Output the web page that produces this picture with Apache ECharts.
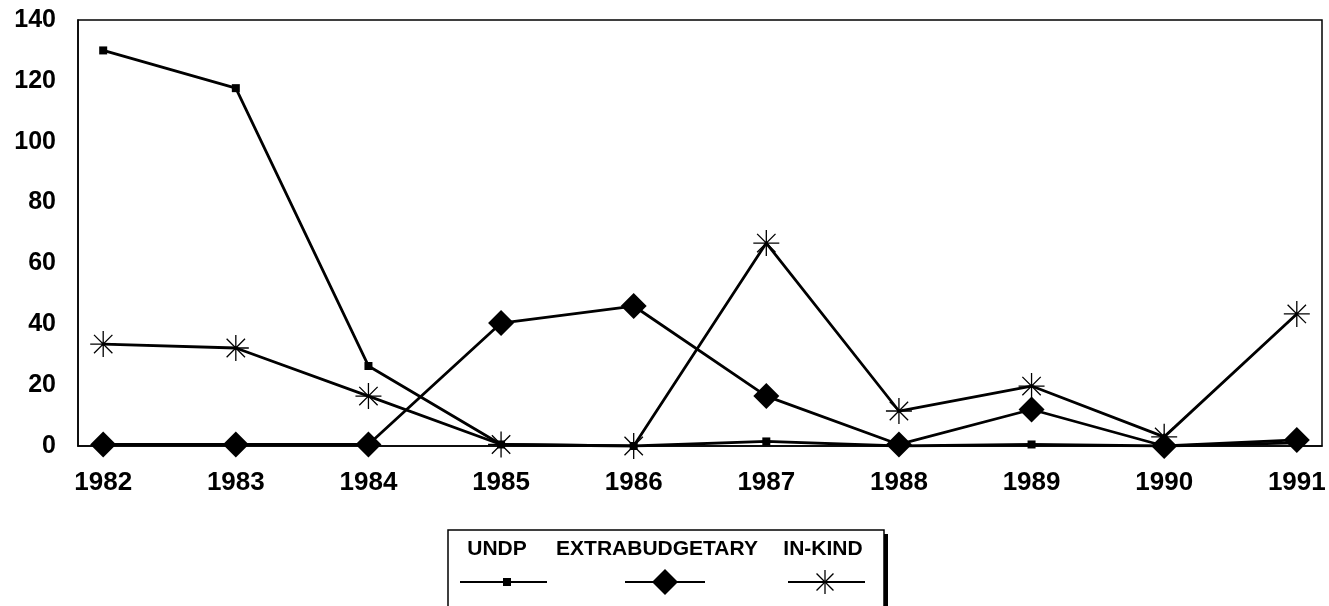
<!DOCTYPE html>
<html><head><meta charset="utf-8">
<script src="https://cdn.jsdelivr.net/npm/echarts@6/dist/echarts.min.js"></script>
<style>html,body{margin:0;padding:0;background:#fff}#c{width:1329px;height:606px}</style>
</head><body><div id="c"></div>
<script>
const years = [1982,1983,1984,1985,1986,1987,1988,1989,1990,1991];
const seriesNames = ['UNDP','EXTRABUDGETARY','IN-KIND'];
const undp = [130,117.6,26.3,0.5,0,1.5,0,0.5,0,1];
const extrabudgetary = [0.5,0.5,0.5,40.4,46,16.4,0.5,12,0,2];
const inKind = [33.5,32.2,16.4,0.5,0,66.7,11.5,19.7,3,43.4];
const yTicks = [0,20,40,60,80,100,120,140];

const star = 'path://M0,-10L0,10M-10,0L10,0M-7.07,-7.07L7.07,7.07M-7.07,7.07L7.07,-7.07';
const FONT = '"Liberation Sans", Arial, sans-serif';

function pairs(arr){ return years.map((y,i)=>[y,arr[i]]); }

function starLines(cx, cy, r){
  const d = r*0.7071;
  return [[0,-r,0,r],[-r,0,r,0],[-d,-d,d,d],[-d,d,d,-d]].map(s=>({
    type:'line', shape:{x1:cx+s[0], y1:cy+s[1], x2:cx+s[2], y2:cy+s[3]},
    style:{stroke:'#000', lineWidth:1.3}, z:12}));
}

const chart = echarts.init(document.getElementById('c'));
const lineStyle = {color:'#000', width:2.8};
chart.setOption({
  animation:false,
  grid:{left:78, right:7, top:20, bottom:160, show:true, borderColor:'#000', borderWidth:1.5},
  xAxis:{type:'value', min:1981.81, max:1991.19,
    axisLine:{show:true, lineStyle:{color:'#000', width:1.5}},
    axisTick:{show:false}, splitLine:{show:false},
    axisLabel:{color:'#000', fontFamily:FONT, fontWeight:'bold', fontSize:26, margin:24,
      customValues:years, formatter:v=>String(Math.round(v))}},
  yAxis:{type:'value', min:yTicks[0], max:yTicks[yTicks.length-1], interval:20,
    axisLine:{show:true, lineStyle:{color:'#000', width:1.5}},
    axisTick:{show:false}, splitLine:{show:false},
    axisLabel:{color:'#000', fontFamily:FONT, fontWeight:'bold', fontSize:25, margin:22}},
  series:[
    {name:seriesNames[0], type:'line', data:pairs(undp), symbol:'rect', symbolSize:8,
      lineStyle, itemStyle:{color:'#000'}, z:3},
    {name:seriesNames[1], type:'line', data:pairs(extrabudgetary), symbol:'diamond', symbolSize:[26,26],
      lineStyle, itemStyle:{color:'#000'}, z:4},
    {name:seriesNames[2], type:'line', data:pairs(inKind), symbol:star, symbolSize:26,
      lineStyle, itemStyle:{color:'#000', borderColor:'#000', borderWidth:1.3}, z:2}
  ],
  graphic:[
    {type:'rect', shape:{x:452, y:534, width:436, height:90}, style:{fill:'#000'}, z:10},
    {type:'rect', shape:{x:448, y:530, width:436, height:90}, style:{fill:'#fff', stroke:'#000', lineWidth:1.5}, z:11},
    {type:'text', x:497, y:549, style:{text:seriesNames[0], font:'bold 21px '+FONT, fill:'#000', align:'center', verticalAlign:'middle'}, z:12},
    {type:'line', shape:{x1:460, y1:582, x2:547, y2:582}, style:{stroke:'#000', lineWidth:2}, z:12},
    {type:'rect', shape:{x:503, y:578, width:8, height:8}, style:{fill:'#000'}, z:12},
    {type:'text', x:657, y:549, style:{text:seriesNames[1], font:'bold 21px '+FONT, fill:'#000', align:'center', verticalAlign:'middle'}, z:12},
    {type:'line', shape:{x1:625, y1:582, x2:705, y2:582}, style:{stroke:'#000', lineWidth:2}, z:12},
    {type:'polygon', shape:{points:[[665,569],[678,582],[665,595],[652,582]]}, style:{fill:'#000'}, z:12},
    {type:'text', x:823, y:549, style:{text:seriesNames[2], font:'bold 21px '+FONT, fill:'#000', align:'center', verticalAlign:'middle'}, z:12},
    {type:'line', shape:{x1:788, y1:582, x2:865, y2:582}, style:{stroke:'#000', lineWidth:2}, z:12}
  ].concat(starLines(825, 582, 12))
});
</script></body></html>
